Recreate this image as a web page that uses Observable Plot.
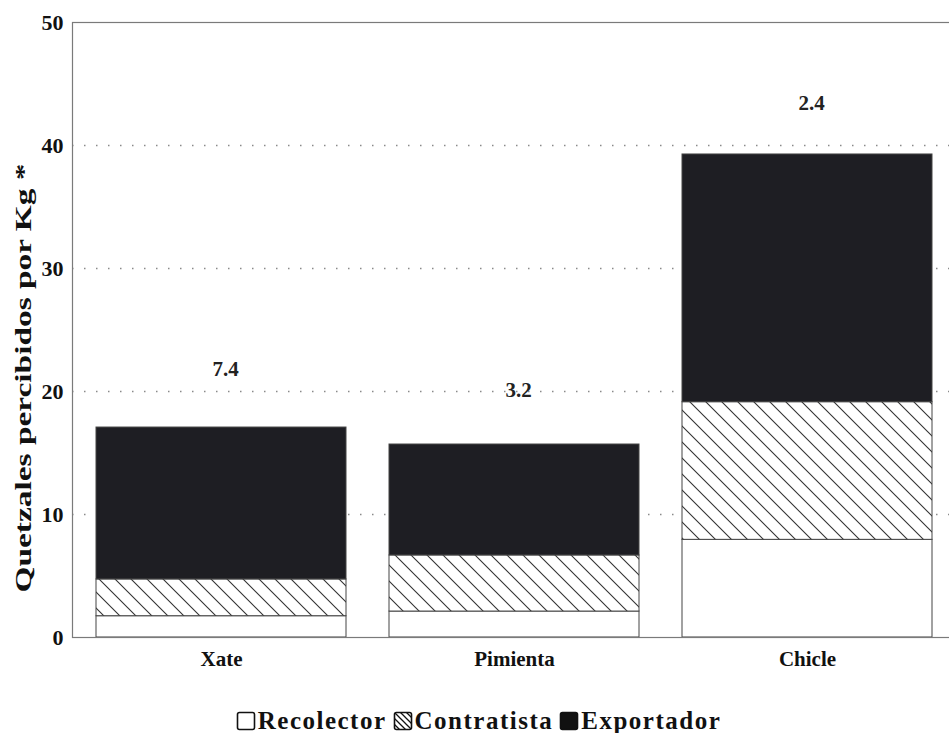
<!DOCTYPE html>
<html>
<head>
<meta charset="utf-8">
<script src="https://cdn.jsdelivr.net/npm/d3@7"></script>
<script src="https://cdn.jsdelivr.net/npm/@observablehq/plot@0.6"></script>
<style>
  html, body { margin: 0; padding: 0; background: #ffffff; }
  #chart { width: 949px; }
  .legend { display: flex; justify-content: center; align-items: center; margin-top: 18px;
            font-family: "Liberation Serif", "Tinos", serif; font-weight: bold; font-size: 25px; color: #111;
            letter-spacing: 1.5px; padding-left: 8px; line-height: 1; }
  .legend .item { display: flex; align-items: center; margin: 0 3px; }
  .legend svg { margin-right: 2px; }
</style>
</head>
<body>
<div id="chart"></div>
<script>
const categories = ["Xate", "Pimienta", "Chicle"];
const actors = ["Recolector", "Contratista", "Exportador"];
const recolector = [1.73, 2.11, 7.94];
const contratista = [2.99, 4.56, 11.19];
const exportador = [12.35, 9.02, 20.14];
const ratioLabels = ["7.4", "3.2", "2.4"];
const ratioLabelY = [21.8, 20.1, 43.4];
const yTicks = [0, 10, 20, 30, 40, 50];
const gridTicks = [10, 20, 30, 40];
const yLabel = "Quetzales percibidos por Kg *";

const series = [recolector, contratista, exportador];
const rows = [];
categories.forEach((c, i) => {
  actors.forEach((a, j) => rows.push({ category: c, actor: a, value: series[j][i] }));
});
const labels = categories.map((c, i) => ({ category: c, text: ratioLabels[i], y: ratioLabelY[i] }));

const fills = ["#ffffff", "url(#hatch)", "#1e1e23"];

const plot = Plot.plot({
  width: 949,
  height: 690,
  marginTop: 22,
  marginBottom: 53,
  marginLeft: 72,
  marginRight: -3,
  style: { fontFamily: "'Liberation Serif', Tinos, serif", fontSize: "22px", fontWeight: "bold", color: "#111", background: "#ffffff" },
  x: { domain: categories, range: [72, 956], paddingInner: 0.1475, paddingOuter: 0.078, align: 0.5, label: null, tickSize: 0, tickPadding: 14 },
  y: { domain: [0, 50], ticks: yTicks, label: null, tickSize: 0, tickPadding: 9, tickFormat: d3.format("d") },
  color: { type: "ordinal", domain: actors, range: fills },
  marks: [
    Plot.ruleY(gridTicks, { stroke: "#8a8a8a", strokeWidth: 1.3, strokeDasharray: "1.5,10.5" }),
    Plot.barY(rows, { x: "category", y: "value", fill: "actor", stroke: "#444", strokeWidth: 1 }),
    Plot.text(labels, { x: "category", y: "y", text: "text", fontSize: 21, fontWeight: "bold", fill: "#222", dx: 4 }),
    Plot.text([yLabel], { text: d => d, frameAnchor: "left", textAnchor: "middle", dx: -49, y: 21.1, rotate: -90, fontSize: 24, fontWeight: "bold", fill: "#111" }),
    Plot.frame({ stroke: "#7a7a7a", strokeWidth: 1.2 })
  ]
});

d3.select(plot).insert("defs", ":first-child").html(
  `<pattern id="hatch" patternUnits="userSpaceOnUse" width="16" height="16">
     <rect width="16" height="16" fill="#ffffff"/>
     <path d="M-4,-4 L20,20 M-4,12 L4,20 M12,-4 L20,4" stroke="#333" stroke-width="1.1"/>
   </pattern>`
);
// stretch the axis title along its length, as in the scanned original
d3.select(plot).selectAll("text").filter(function() { return this.textContent === yLabel; })
  .attr("textLength", 429).attr("lengthAdjust", "spacingAndGlyphs");
// x category labels slightly smaller than y tick labels
d3.select(plot).selectAll("text").filter(function() { return categories.includes(this.textContent); })
  .attr("font-size", 21);

document.getElementById("chart").appendChild(plot);

// legend
const legend = d3.select("#chart").append("div").attr("class", "legend");
actors.forEach((a, j) => {
  const item = legend.append("div").attr("class", "item");
  const sw = item.append("svg").attr("width", 20).attr("height", 20);
  const defs = sw.append("defs");
  defs.append("pattern").attr("id", "lh" + j).attr("patternUnits", "userSpaceOnUse").attr("width", 6).attr("height", 6)
    .html(`<rect width="6" height="6" fill="#fff"/><path d="M-2,-2 L8,8 M-2,4 L2,8 M4,-2 L8,2" stroke="#111" stroke-width="1.3"/>`);
  sw.append("rect").attr("x", 1.5).attr("y", 1.5).attr("width", 17).attr("height", 17).attr("rx", 2)
    .attr("fill", j === 1 ? `url(#lh${j})` : (j === 2 ? "#111" : "#fff"))
    .attr("stroke", "#111").attr("stroke-width", 1.6);
  item.append("span").text(a);
});
</script>
</body>
</html>
